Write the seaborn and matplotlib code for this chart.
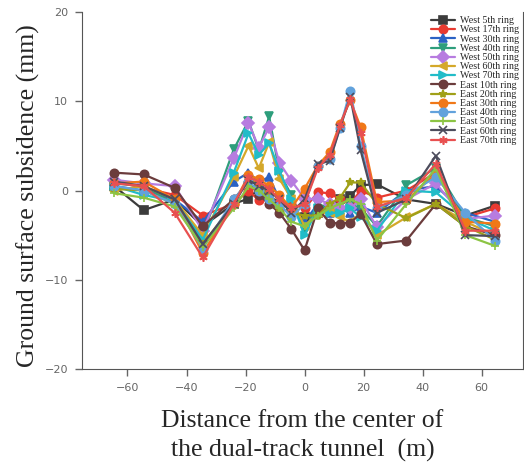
import numpy as np
import pandas as pd
import seaborn as sns
import matplotlib.pyplot as plt

# distance from tunnel centre (m)
distance = [-64.5, -54.5, -44, -34.5, -24, -19, -15.5, -12, -8.5, -4.5, 0,
            4.5, 8.5, 12, 15.5, 19, 24.5, 34.5, 44.5, 54.5, 64.5]

ring_names = ["West 5th ring", "West 17th ring", "West 30th ring", "West 40th ring",
              "West 50th ring", "West 60th ring", "West 70th ring", "East 10th ring",
              "East 20th ring", "East 30th ring", "East 40th ring", "East 50th ring",
              "East 60th ring", "East 70th ring"]

west_5 = [0.5, -2.2, -1.0, -4.0, -1.5, -0.9, 0.2, -0.5, -1.5, -2.0, -3.0,
          -2.5, -2.0, -1.0, -0.6, 0.6, 0.7, -1.0, -1.5, -2.8, -1.7]
west_17 = [1.0, 0.3, -0.5, -2.8, -1.5, 0.0, -1.1, -1.0, -1.8, -1.5, -2.0,
           -0.2, -0.3, -1.0, -1.5, 0.0, -0.8, 0.0, 2.0, -3.0, -2.0]
west_30 = [0.5, 0.0, -1.0, -3.5, 1.0, 2.0, 1.0, 1.5, -1.0, -2.0, -3.5,
           -1.5, -2.5, -2.0, -2.5, -1.8, -2.5, 0.0, 0.5, -2.5, -3.5]
west_40 = [0.8, 0.5, -1.5, -5.0, 4.6, 7.8, 4.5, 8.3, 2.0, -0.5, -4.5,
           -1.5, -2.0, -2.5, -1.5, -2.0, -4.0, 0.6, 2.5, -3.0, -4.0]
west_50 = [1.2, 0.8, 0.5, -4.5, 3.6, 7.6, 4.8, 7.1, 3.1, 1.1, -0.9,
           -1.0, -1.5, -2.0, -2.0, -1.0, -4.1, -1.0, 0.8, -3.2, -2.8]
west_60 = [0.0, 0.5, -1.0, -5.0, 1.5, 5.0, 2.5, 5.4, 1.3, -0.9, -4.0,
           -2.5, -2.5, -3.0, -3.5, -2.5, -5.0, -3.0, -1.5, -3.5, -5.0]
west_70 = [0.5, -0.5, -1.2, -5.5, 2.0, 6.4, 4.0, 5.3, 2.2, -1.0, -5.0,
           -2.0, -2.5, -2.5, -2.0, -3.0, -4.5, 0.0, -0.2, -3.0, -4.5]
east_10 = [2.0, 1.8, 0.3, -4.0, -1.0, 1.0, -0.5, -1.5, -2.5, -4.3, -6.7,
           -2.0, -3.6, -3.7, -3.6, -2.6, -6.0, -5.6, -1.5, -4.0, -5.0]
east_20 = [0.2, 0.0, -1.5, -6.0, -1.5, 1.5, 0.5, -0.5, -2.0, -2.5, -2.8,
           -2.8, -1.5, -0.8, 0.9, 0.9, -1.5, -3.1, -1.5, -4.0, -5.5]
east_30 = [0.8, 1.0, -1.0, -7.0, -1.5, 1.7, 1.3, 0.5, -0.5, -2.0, 0.2,
           2.8, 4.3, 7.5, 10.1, 7.1, -1.3, -1.1, 1.9, -3.5, -3.7]
east_40 = [0.5, 0.0, -1.5, -6.5, -1.0, 1.0, 0.0, -1.0, -1.5, -3.0, -1.5,
           2.8, 3.5, 7.0, 11.2, 5.0, -2.0, -0.5, 1.5, -2.5, -5.6]
east_50 = [-0.3, -0.8, -1.8, -6.3, -2.0, 0.5, 0.0, -1.0, -2.0, -3.5, -4.0,
           -2.8, -2.0, -1.5, -1.0, -1.5, -5.6, -1.5, 2.5, -5.0, -6.2]
east_60 = [1.0, 0.5, -1.0, -6.0, -1.5, 1.2, 0.5, 0.0, -1.0, -2.5, -1.0,
           3.0, 3.3, 7.0, 10.5, 4.5, -2.5, -1.0, 3.9, -5.0, -5.1]
east_70 = [0.8, 0.5, -2.5, -7.5, -1.5, 1.5, 1.0, 0.2, -1.0, -2.0, -1.5,
           2.5, 4.0, 7.3, 10.3, 6.5, -1.8, -0.8, 3.0, -4.5, -4.5]

series = [west_5, west_17, west_30, west_40, west_50, west_60, west_70,
          east_10, east_20, east_30, east_40, east_50, east_60, east_70]

colors = ["#3c3c3c", "#e83a30", "#2a62c4", "#2e9e7c", "#b77ce0", "#d4a82a", "#22bcc8",
          "#6b3c3c", "#a0a018", "#f07818", "#62a2dc", "#8cc444", "#4c4c5c", "#e85050"]
markers = ["s", "o", "^", "v", "D", "<", ">", "o", "*", "o", "o", "+", "x", (6, 2, 0)]

sns.set_style("ticks")
plt.rcParams["font.family"] = ["DejaVu Sans"]

fig = plt.figure(figsize=(5.24, 4.63), dpi=100)
ax = fig.add_axes([0.156, 0.203, 0.842, 0.771])

for name, vals, c, m in zip(ring_names, series, colors, markers):
    df = pd.DataFrame({"x": distance, "y": vals})
    sns.lineplot(data=df, x="x", y="y", ax=ax, color=c, marker=m, markersize=6,
                 linewidth=1.6, markeredgecolor=c, markeredgewidth=1.2, label=name)

ax.set_xlim(-75.5, 74)
ax.set_ylim(-20, 20)
ax.set_xticks([-60, -40, -20, 0, 20, 40, 60])
ax.set_yticks([-20, -10, 0, 10, 20])
ax.tick_params(axis="both", direction="out", length=5, width=1, color="#666666",
               labelsize=8, labelcolor="#666666", pad=5)
for s in ["left", "bottom", "right"]:
    ax.spines[s].set_color("#555555")
ax.spines["top"].set_visible(False)

ax.set_xlabel("Distance from the center of\nthe dual-track tunnel  (m)",
              family="Liberation Serif", fontsize=18.5, labelpad=12, linespacing=1.4)
ax.set_ylabel("Ground surface subsidence (mm)", family="Liberation Serif",
              fontsize=18.5)
ax.yaxis.set_label_coords(-0.095, 0.485)

ax.legend(loc="upper right", bbox_to_anchor=(1.005, 1.005), frameon=False,
          prop={"family": "Liberation Serif", "size": 7.2}, labelspacing=0.02,
          handlelength=2.4, handleheight=0.6, handletextpad=0.5, borderaxespad=0.2,
          markerscale=1.0)

fig.savefig("out.png", dpi=100)
